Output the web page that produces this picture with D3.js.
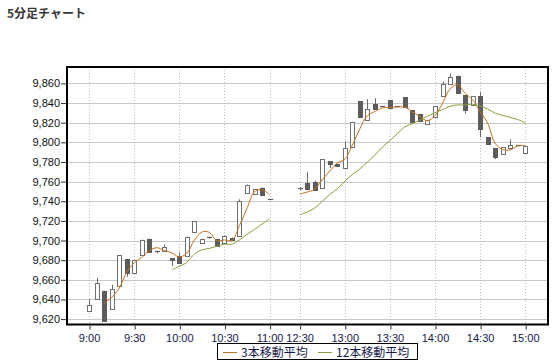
<!DOCTYPE html>
<html><head><meta charset="utf-8">
<script src="https://cdn.jsdelivr.net/npm/d3@7"></script>
<style>
html,body{margin:0;padding:0;background:#fff;}
svg{display:block;}
</style></head>
<body>
<svg id="chart" width="556" height="363"></svg>
<script>
// ---- data ----
const slots  = [0,1,2,3,4,5,6,7,8,9,10,11,12,13,14,15,16,17,18,19,20,21,22,23,24,
                28,29,30,31,32,33,34,35,36,37,38,39,40,41,42,43,44,45,46,47,48,49,50,51,52,53,54,55,56,57,58];
const session = [0,0,0,0,0,0,0,0,0,0,0,0,0,0,0,0,0,0,0,0,0,0,0,0,0,
                 1,1,1,1,1,1,1,1,1,1,1,1,1,1,1,1,1,1,1,1,1,1,1,1,1,1,1,1,1,1,1];
const opens  = [9628,9640,9649,9630,9654,9681,9667,9685,9702,9689,9689,9682,9684,9684,9709,9697,9704,9702,9697,9703,9705,9748,9747,9754,9742,
                9754,9759,9760,9754,9781,9778,9774,9795,9842,9823,9839,9837,9843,9837,9846,9833,9829,9819,9826,9847,9859,9868,9848,9838,9847,9805,9794,9788,9794,9797,9789];
const highs  = [9640,9662,9649,9655,9685,9681,9680,9701,9702,9689,9696,9682,9688,9704,9720,9702,9704,9702,9705,9703,9742,9757,9752,9754,9742,
                9754,9770,9761,9783,9781,9778,9801,9821,9842,9844,9845,9837,9843,9837,9846,9833,9829,9823,9837,9862,9870,9868,9848,9847,9851,9805,9794,9795,9803,9797,9796];
const lows   = [9628,9640,9618,9630,9654,9663,9667,9685,9688,9687,9689,9674,9677,9684,9709,9697,9702,9694,9697,9701,9705,9748,9747,9746,9742,
                9751,9752,9751,9754,9774,9776,9774,9795,9826,9823,9834,9837,9835,9836,9836,9821,9822,9819,9826,9847,9859,9850,9829,9838,9805,9798,9783,9788,9794,9797,9789];
const closes = [9634,9657,9618,9651,9685,9667,9680,9701,9688,9689,9693,9680,9677,9704,9720,9702,9703,9694,9705,9701,9740,9757,9752,9746,9742,
                9754,9752,9751,9783,9778,9776,9794,9821,9826,9834,9834,9837,9835,9836,9836,9821,9822,9823,9837,9859,9867,9850,9833,9847,9814,9798,9785,9795,9797,9797,9796];
const tickSlots  = [0,6,12,18,24,28,34,40,46,52,58];
const tickLabels = ["9:00","9:30","10:00","10:30","11:00","12:30","13:00","13:30","14:00","14:30","15:00"];
const yTicks = [9620,9640,9660,9680,9700,9720,9740,9760,9780,9800,9820,9840,9860];
const maPeriods = [3,12];
const maNames = ["3本移動平均","12本移動平均"];
const maColors = ["#c4701c","#84a03c"];

// ---- layout ----
const L = 67, R = 548, T = 67, B = 324.5;
const x = d3.scaleLinear().domain([-3, 61]).range([66.5, 547.8]);
const y = d3.scaleLinear().domain([9614, 9877]).range([325, 66.7]);

const svg = d3.select("#chart");
const jp = "'Noto Sans CJK JP','Noto Sans',sans-serif";
const num = "'Liberation Sans',Arial,sans-serif";

svg.append("text").attr("x", 7).attr("y", 18)
  .attr("font-family", jp).attr("font-weight", "bold").attr("font-size", 12)
  .attr("fill", "#383838").text("5分足チャート");

// plot background
svg.append("rect").attr("x", L).attr("y", T).attr("width", R - L).attr("height", B - T).attr("fill", "#fff");

// horizontal grid
svg.append("g").selectAll("line").data(yTicks).join("line")
  .attr("x1", L).attr("x2", R)
  .attr("y1", d => Math.round(y(d)) + 0.5).attr("y2", d => Math.round(y(d)) + 0.5)
  .attr("stroke", "#c8c8c8").attr("stroke-width", 1);

// vertical dotted grid
svg.append("g").selectAll("line").data(tickSlots).join("line")
  .attr("x1", d => Math.round(x(d)) + 0.5).attr("x2", d => Math.round(x(d)) + 0.5)
  .attr("y1", T).attr("y2", B)
  .attr("stroke", "#bdbdbd").attr("stroke-width", 1).attr("stroke-dasharray", "1,2");

// candles
const idx = d3.range(slots.length);
const cg = svg.append("g");
const cx = i => Math.round(x(slots[i]));
cg.selectAll("line.wick").data(idx).join("line").attr("class", "wick")
  .attr("x1", i => cx(i) + 0.5).attr("x2", i => cx(i) + 0.5)
  .attr("y1", i => y(highs[i])).attr("y2", i => y(lows[i]))
  .attr("stroke", "#6a6a6a").attr("stroke-width", 1);
cg.selectAll("rect.body").data(idx.filter(i => Math.abs(closes[i] - opens[i]) >= 1.5)).join("rect").attr("class", "body")
  .each(function(i) {
    const top = y(Math.max(opens[i], closes[i])), bot = y(Math.min(opens[i], closes[i]));
    const up = closes[i] > opens[i];
    const s = d3.select(this);
    if (up) {
      s.attr("x", cx(i) - 1.5).attr("width", 4)
       .attr("y", Math.round(top) + 0.5).attr("height", Math.max(1, Math.round(bot) - Math.round(top)))
       .attr("fill", "#fff").attr("stroke", "#707070").attr("stroke-width", 1);
    } else {
      s.attr("x", cx(i) - 2).attr("width", 5)
       .attr("y", Math.round(top)).attr("height", Math.max(1, Math.round(bot) - Math.round(top) + 1))
       .attr("fill", "#5c5c5c");
    }
  });
cg.selectAll("line.doji").data(idx.filter(i => Math.abs(closes[i] - opens[i]) < 1.5)).join("line").attr("class", "doji")
  .attr("x1", i => cx(i) - 2).attr("x2", i => cx(i) + 3)
  .attr("y1", i => Math.round(y((opens[i] + closes[i]) / 2)) + 0.5)
  .attr("y2", i => Math.round(y((opens[i] + closes[i]) / 2)) + 0.5)
  .attr("stroke", "#5c5c5c").attr("stroke-width", 1.2);

// moving averages
maPeriods.forEach((p, k) => {
  const pts = [];
  for (let i = p - 1; i < closes.length; i++) {
    pts.push({slot: slots[i], ses: session[i], v: d3.mean(closes.slice(i - p + 1, i + 1))});
  }
  [0, 1].forEach(s => {
    const seg = pts.filter(d => d.ses === s);
    svg.append("path").datum(seg)
      .attr("fill", "none").attr("stroke", maColors[k]).attr("stroke-width", 1)
      .attr("d", d3.line().x(d => x(d.slot)).y(d => y(d.v)).curve(d3.curveCatmullRom.alpha(0.5)));
  });
});

// frame
svg.append("rect").attr("x", L).attr("y", T).attr("width", R - L).attr("height", B - T)
  .attr("fill", "none").attr("stroke", "#000").attr("stroke-width", 2);

// y axis
const ya = svg.append("g").attr("transform", `translate(${L - 1},0)`)
  .call(d3.axisLeft(y).tickValues(yTicks).tickSize(5).tickPadding(1).tickFormat(d3.format(",")));
ya.select(".domain").remove();
ya.selectAll("line").attr("stroke", "#333");
ya.selectAll("text").attr("font-family", num).attr("font-size", 11).attr("fill", "#111");

// x axis
const xa = svg.append("g").attr("transform", `translate(0,${B + 1})`)
  .call(d3.axisBottom(x).tickValues(tickSlots).tickSize(4).tickPadding(5)
        .tickFormat((d, i) => tickLabels[i]));
xa.select(".domain").remove();
xa.selectAll("line").attr("stroke", "#333").attr("transform", "translate(0.5,0)");
xa.selectAll("text").attr("font-family", num).attr("font-size", 11).attr("fill", "#14184a");

// legend
const lg = svg.append("g");
lg.append("rect").attr("x", 217.5).attr("y", 343.5).attr("width", 200).attr("height", 16)
  .attr("fill", "#fff").attr("stroke", "#000").attr("stroke-width", 1);
const lx = [223, 318];
maNames.forEach((n, k) => {
  lg.append("line").attr("x1", lx[k]).attr("x2", lx[k] + 14).attr("y1", 352.5).attr("y2", 352.5)
    .attr("stroke", maColors[k]).attr("stroke-width", 1);
  lg.append("text").attr("x", lx[k] + 18).attr("y", 357).attr("font-family", jp).attr("font-size", 12)
    .attr("fill", "#14184a").text(n);
});
</script>
</body></html>
